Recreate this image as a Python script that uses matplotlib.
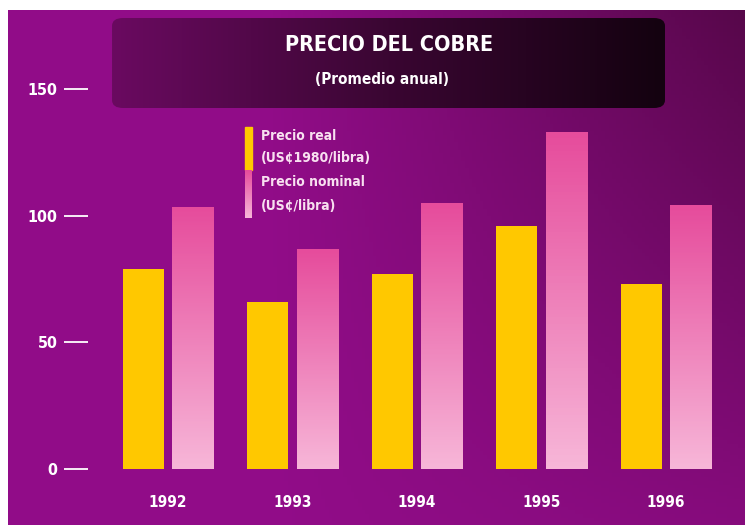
import numpy as np
import matplotlib
matplotlib.use("Agg")
import matplotlib.pyplot as plt
from matplotlib.patches import FancyBboxPatch, Rectangle

# data
years = ["1992", "1993", "1994", "1995", "1996"]
precio_real = [79, 66, 77, 96, 73]
precio_nominal = [103.6, 86.7, 104.9, 133.2, 104.1]
yticks = [0, 50, 100, 150]

FONT = ["DejaVu Sans"]
TXT = dict(family=FONT, fontstretch="condensed", fontweight="bold")
W, H = 745, 525


def fx(px):
    return px / W


def fy(py):
    return 1 - py / H


fig = plt.figure(figsize=(7.45, 5.25), dpi=100)
fig.patch.set_facecolor("white")

# background gradient (magenta, darker to the right / top right)
bg = fig.add_axes([0, 0, 1, 1], zorder=0)
bg.set_axis_off()
bg.set_xlim(0, 1)
bg.set_ylim(0, 1)
gx, gy = np.meshgrid(np.linspace(0, 1, 200), np.linspace(0, 1, 140))
dark = 0.12 + 0.7 * np.clip(gx - 0.35, 0, 1) * (1.25 - gy)
dark = np.clip(dark, 0, 1)
base = np.array([158, 14, 150]) / 255
deep = np.array([55, 4, 40]) / 255
img = base[None, None, :] * (1 - dark[..., None]) + deep[None, None, :] * dark[..., None]
bg.imshow(img, extent=[fx(8), 1, 0, fy(10)], aspect="auto", origin="upper")

# title box
box = FancyBboxPatch((fx(112), fy(108)), fx(665) - fx(112), fy(18) - fy(108),
                     boxstyle="round,pad=0.0,rounding_size=0.015",
                     transform=bg.transAxes, facecolor="none", edgecolor="none", zorder=2)
bg.add_patch(box)
tg = np.repeat(np.linspace(0, 1, 200)[None, :], 10, axis=0)
timg = bg.imshow(tg, extent=[fx(112), fx(665), fy(108), fy(18)],
                 cmap=matplotlib.colors.LinearSegmentedColormap.from_list(
                     "t", ["#6a0a60", "#3a0632", "#140210"]), aspect="auto", zorder=2)
timg.set_clip_path(box)
bg.text(fx(389), fy(45), "PRECIO DEL COBRE", color="white", fontsize=15.5,
        ha="center", va="center", zorder=3, **TXT)
bg.text(fx(382), fy(80), "(Promedio anual)", color="white", fontsize=11,
        ha="center", va="center", zorder=3, **TXT)

# main axes
ax = fig.add_axes([fx(88), fy(469), fx(740) - fx(88), fy(63.7) - fy(469)], zorder=1)
ax.set_facecolor("none")
for s in ax.spines.values():
    s.set_visible(False)

x = np.arange(len(years))
off = 0.2
w = 0.33
ax.bar(x - off, precio_real, w, color="#ffc800", zorder=2)
pb = ax.bar(x + off, precio_nominal, w, color="none", zorder=2)

cm_pink = matplotlib.colors.LinearSegmentedColormap.from_list("p", ["#f7b6d8", "#e64c9c"])
grad = np.linspace(0, 1, 100)[:, None]
for r in pb:
    x0, y0 = r.get_x(), r.get_y()
    im = ax.imshow(grad, extent=[x0, x0 + r.get_width(), y0, y0 + r.get_height()],
                   origin="lower", cmap=cm_pink, aspect="auto", zorder=2)
    im.set_clip_path(r)

ax.set_xlim(-0.643, 4.594)
ax.set_ylim(0, 160)
ax.set_yticks(yticks)
ax.set_yticklabels([str(t) for t in yticks], fontsize=11.5, color="white", **TXT)
ax.tick_params(axis="y", length=17, width=1.3, color="white", pad=5, direction="out")
ax.set_xticks(x)
ax.set_xticklabels(years, fontsize=11, color="white", **TXT)
ax.tick_params(axis="x", length=0, pad=19)

# legend
bg.add_patch(Rectangle((fx(245), fy(170)), fx(252) - fx(245), fy(127) - fy(170),
                       transform=bg.transAxes, color="#ffc800", zorder=3))
bg.imshow(np.linspace(0, 1, 50)[:, None], extent=[fx(245), fx(252), fy(218), fy(170)],
          origin="lower", cmap=cm_pink, aspect="auto", zorder=3)
leg_texts = [("Precio real", 136), ("(US¢1980/libra)", 158), ("Precio nominal", 182), ("(US¢/libra)", 206)]
for t, py in leg_texts:
    bg.text(fx(261), fy(py), t, color="#f8e0f0", fontsize=10,
            ha="left", va="center", zorder=3, **TXT)

fig.savefig("out.png", dpi=100)
